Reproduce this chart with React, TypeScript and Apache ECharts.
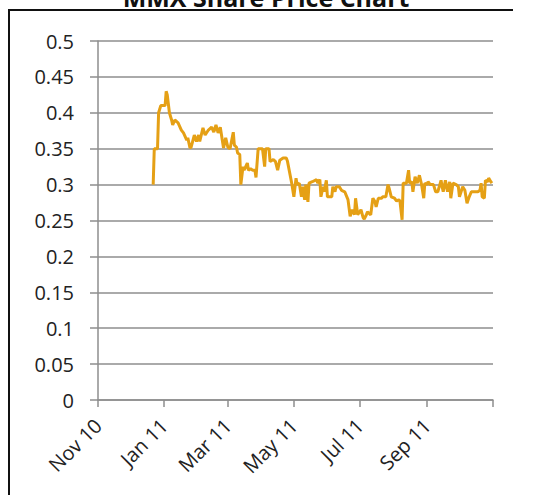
import React, { useEffect, useRef } from "react";
import * as echarts from "echarts";

const chartTitle = "MMX Share Price Chart";

const dates: string[] = [
  "2010-12-22", "2010-12-23", "2010-12-26", "2010-12-27", "2010-12-29",
  "2011-01-02", "2011-01-03", "2011-01-04", "2011-01-06", "2011-01-08", "2011-01-09", "2011-01-11", "2011-01-14", "2011-01-17", "2011-01-19", "2011-01-22", "2011-01-23", "2011-01-25", "2011-01-26", "2011-01-29", "2011-01-31",
  "2011-02-02", "2011-02-03", "2011-02-06", "2011-02-08", "2011-02-11", "2011-02-14", "2011-02-16", "2011-02-18", "2011-02-20", "2011-02-22", "2011-02-25", "2011-02-27",
  "2011-03-01", "2011-03-03", "2011-03-06", "2011-03-07", "2011-03-09", "2011-03-10", "2011-03-12", "2011-03-13", "2011-03-15", "2011-03-16", "2011-03-19", "2011-03-20", "2011-03-22", "2011-03-24", "2011-03-26", "2011-03-27", "2011-03-29", "2011-03-31",
  "2011-04-02", "2011-04-04", "2011-04-05", "2011-04-08", "2011-04-09", "2011-04-12", "2011-04-14", "2011-04-16", "2011-04-18", "2011-04-21", "2011-04-24", "2011-04-25", "2011-04-29",
  "2011-05-01", "2011-05-03", "2011-05-04", "2011-05-06", "2011-05-08", "2011-05-09", "2011-05-11", "2011-05-12", "2011-05-14", "2011-05-15", "2011-05-18", "2011-05-22", "2011-05-23", "2011-05-25", "2011-05-26", "2011-05-28", "2011-05-29", "2011-05-31",
  "2011-06-01", "2011-06-05", "2011-06-06", "2011-06-08", "2011-06-09", "2011-06-12", "2011-06-14", "2011-06-17", "2011-06-20", "2011-06-22", "2011-06-24", "2011-06-26", "2011-06-27", "2011-06-29",
  "2011-07-02", "2011-07-04", "2011-07-05", "2011-07-07", "2011-07-08", "2011-07-11", "2011-07-13", "2011-07-15", "2011-07-16", "2011-07-18", "2011-07-21", "2011-07-22", "2011-07-25", "2011-07-27", "2011-07-28", "2011-07-30",
  "2011-08-02", "2011-08-04", "2011-08-06", "2011-08-07", "2011-08-09", "2011-08-10", "2011-08-13", "2011-08-15", "2011-08-16", "2011-08-18", "2011-08-19", "2011-08-21", "2011-08-23", "2011-08-25", "2011-08-27", "2011-08-29", "2011-08-30",
  "2011-09-01", "2011-09-02", "2011-09-04", "2011-09-07", "2011-09-09", "2011-09-11", "2011-09-14", "2011-09-15", "2011-09-16", "2011-09-18", "2011-09-20", "2011-09-22", "2011-09-23", "2011-09-25", "2011-09-28", "2011-09-30",
  "2011-10-01", "2011-10-04", "2011-10-06", "2011-10-08", "2011-10-10", "2011-10-12", "2011-10-15", "2011-10-18", "2011-10-20", "2011-10-21", "2011-10-22", "2011-10-24", "2011-10-25", "2011-10-27", "2011-10-28", "2011-10-30", "2011-10-31",
];

const prices: number[] = [
  0.30, 0.35, 0.35, 0.40, 0.41,
  0.41, 0.43, 0.425, 0.40, 0.39, 0.383, 0.39, 0.386, 0.376, 0.372, 0.362, 0.365, 0.351, 0.352, 0.369, 0.36,
  0.369, 0.36, 0.379, 0.369, 0.376, 0.38, 0.373, 0.383, 0.372, 0.38, 0.351, 0.365,
  0.352, 0.35, 0.373, 0.355, 0.352, 0.344, 0.342, 0.30, 0.325, 0.32, 0.33, 0.32, 0.322, 0.32, 0.32, 0.31, 0.35, 0.35,
  0.35, 0.325, 0.35, 0.35, 0.332, 0.335, 0.332, 0.32, 0.334, 0.337, 0.337, 0.333, 0.302,
  0.283, 0.309, 0.30, 0.302, 0.283, 0.297, 0.279, 0.30, 0.276, 0.302, 0.304, 0.307, 0.302, 0.307, 0.283, 0.297, 0.29, 0.306,
  0.283, 0.283, 0.297, 0.29, 0.297, 0.297, 0.292, 0.29, 0.279, 0.256, 0.265, 0.258, 0.281, 0.258,
  0.265, 0.254, 0.252, 0.258, 0.262, 0.258, 0.281, 0.276, 0.269, 0.281, 0.281, 0.283, 0.283, 0.30, 0.295, 0.283,
  0.281, 0.277, 0.279, 0.277, 0.251, 0.302, 0.302, 0.32, 0.302, 0.304, 0.29, 0.311, 0.302, 0.313, 0.30, 0.281, 0.302,
  0.30, 0.304, 0.30, 0.30, 0.29, 0.29, 0.306, 0.297, 0.29, 0.306, 0.29, 0.304, 0.281, 0.302, 0.30, 0.297,
  0.283, 0.297, 0.292, 0.274, 0.283, 0.29, 0.29, 0.29, 0.292, 0.302, 0.283, 0.281, 0.306, 0.304, 0.309, 0.304, 0.302,
];

const tickDates: string[] = ["2010-11-01", "2011-01-01", "2011-03-01", "2011-05-01", "2011-07-01", "2011-09-01", "2011-11-01"];
const tickLabels: string[] = ["Nov 10", "Jan 11", "Mar 11", "May 11", "Jul 11", "Sep 11"];

const yMin = 0;
const yMax = 0.5;
const yStep = 0.05;

function ts(s: string): number {
  const [y, m, d] = s.split("-").map(Number);
  return Date.UTC(y, m - 1, d);
}

export default function App() {
  const ref = useRef<HTMLDivElement>(null);

  useEffect(() => {
    if (!ref.current) return;
    const chart = echarts.init(ref.current, null, { renderer: "svg" });
    const tickTs = tickDates.map(ts);
    const labelTs = tickTs.slice(0, tickLabels.length);
    const font = "'Open Sans', 'DejaVu Sans', sans-serif";
    const gridColor = "#8e8e8e";
    const lineColor = "#E5A015";

    chart.setOption({
      animation: false,
      backgroundColor: "#ffffff",
      graphic: [
        {
          type: "polyline",
          shape: { points: [[9, 495], [9, 10], [513, 10]] },
          style: { fill: "none", stroke: "#111", lineWidth: 2 },
          silent: true,
        },
        {
          type: "text",
          x: 266,
          y: -16,
          style: {
            text: chartTitle,
            font: `bold 25px ${font}`,
            fill: "#111",
            textAlign: "center",
            textVerticalAlign: "top",
          },
        },
      ],
      grid: { left: 98, right: 43, top: 41, bottom: 95, containLabel: false },
      xAxis: {
        type: "value",
        min: tickTs[0],
        max: tickTs[tickTs.length - 1],
        axisLine: { show: true, onZero: false, lineStyle: { color: gridColor, width: 1.5 } },
        axisTick: {
          show: true,
          length: 7,
          customValues: tickTs,
          lineStyle: { color: gridColor, width: 1.5 },
        },
        axisLabel: {
          customValues: labelTs,
          rotate: 45,
          margin: 22,
          fontFamily: font,
          fontSize: 20,
          color: "#222",
          formatter: (v: number) => {
            const i = labelTs.indexOf(v);
            return i >= 0 ? tickLabels[i] : "";
          },
        },
        splitLine: { show: false },
      },
      yAxis: {
        type: "value",
        min: yMin,
        max: yMax,
        interval: yStep,
        axisLine: { show: true, lineStyle: { color: gridColor, width: 1.5 } },
        axisTick: { show: true, length: 8, lineStyle: { color: gridColor, width: 1.5 } },
        axisLabel: {
          margin: 24,
          fontFamily: font,
          fontSize: 20,
          color: "#222",
          formatter: (v: number) => String(Math.round(v * 100) / 100),
        },
        splitLine: { show: true, lineStyle: { color: gridColor, width: 1.5 } },
      },
      series: [
        {
          type: "line",
          data: dates.map((d, i) => [ts(d), prices[i]]),
          showSymbol: false,
          lineStyle: { color: lineColor, width: 3 },
          itemStyle: { color: lineColor },
        },
      ],
    });

    return () => chart.dispose();
  }, []);

  return (
    <div
      ref={ref}
      style={{ position: "fixed", left: 0, top: 0, width: 536, height: 495 }}
    />
  );
}
